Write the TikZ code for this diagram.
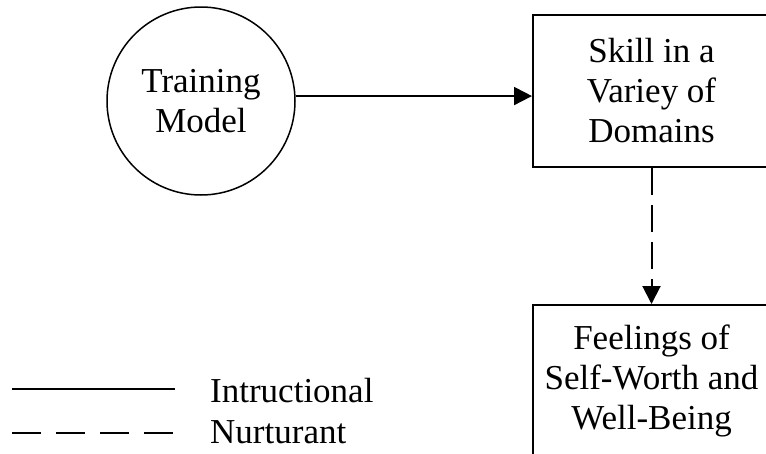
\documentclass[tikz,border=0pt]{standalone}
\usepackage{fontspec}
\setmainfont{Liberation Serif}
\usetikzlibrary{arrows.meta,positioning}
\begin{document}
\begin{tikzpicture}[x=1pt,y=1pt,font=\fontsize{35}{40}\selectfont]
    \tikzset{block/.style={draw,rectangle,line width=2pt,align=center,minimum width=237pt,minimum height=152pt,inner sep=0pt},
             model/.style={draw,circle,line width=1.5pt,align=center,minimum size=188pt,inner sep=0pt},
             instr/.style={line width=2pt},
             nurt/.style={line width=2pt,dash pattern=on 27pt off 10pt},
             tip/.style={-{Triangle[length=18pt,width=18pt]}}}
    \useasboundingbox (0,0) rectangle (766,-453);
    \node [model] (train) at (201,-101) {Training\\Model};
    \node [block] (skill) at (651.5,-91) {Skill in a\\Variey of\\Domains};
    \node [block,below=136pt of skill] (feel) {Feelings of\\Self-Worth and\\Well-Being};

    \draw [instr,tip] (train.3.7) -- (train.3.7 -| skill.west);
    \draw [nurt,tip] (skill.south) -- (feel.north);

    % legend
    \coordinate (i1) at (12,-389);
    \coordinate (i2) at (175,-389);
    \coordinate (n1) at (12,-433);
    \coordinate (n2) at (173,-433);
    \draw [instr] (i1) -- (i2);
    \draw [nurt,dash pattern=on 29pt off 15pt] (n1) -- (n2);
    \node [anchor=base west,inner sep=0pt] (instrlab) at (210,-402) {Intructional};
    \node [anchor=base west,inner sep=0pt] (nurtlab) at (210,-443) {Nurturant};
  \end{tikzpicture}
\end{document}
